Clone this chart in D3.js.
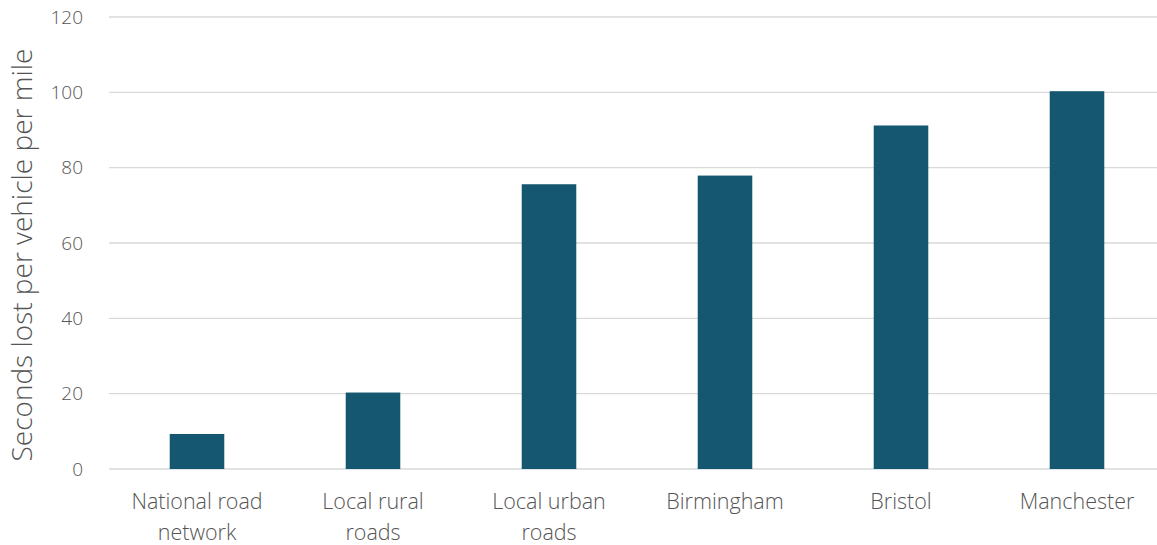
<!DOCTYPE html>
<html lang="en">
<head>
<meta charset="UTF-8">
<title>Seconds lost per vehicle per mile</title>
<script src="https://d3js.org/d3.v7.min.js"></script>
<style>
  * { margin: 0; padding: 0; }
  body { background: #fff; }
  #chart text { font-family: "Open Sans", sans-serif; font-weight: 300; fill: #555; }
</style>
</head>
<body>
<div id="chart"></div>
<script>
  // data
  var categories = [["National road", "network"], ["Local rural", "roads"], ["Local urban", "roads"],
                    ["Birmingham"], ["Bristol"], ["Manchester"]];
  var values = [9.3, 20.3, 75.6, 77.9, 91.2, 100.3];
  var yTicks = [0, 20, 40, 60, 80, 100, 120];

  var width = 1157, height = 545;
  var svg = d3.select("#chart").append("svg")
      .attr("width", width).attr("height", height);

  var x = d3.scaleBand()
      .domain(d3.range(categories.length))
      .range([109, 1165])
      .paddingInner(0.69)
      .paddingOuter(0.345);

  var y = d3.scaleLinear().domain([0, 120]).range([469, 17]);

  // gridlines
  svg.append("g").selectAll("line")
      .data(yTicks)
      .enter().append("line")
      .attr("x1", 109).attr("x2", width)
      .attr("y1", function (d) { return y(d); })
      .attr("y2", function (d) { return y(d); })
      .attr("stroke", "#d9d9d9")
      .attr("stroke-width", 1.3);

  // y tick labels
  svg.append("g").selectAll("text")
      .data(yTicks)
      .enter().append("text")
      .attr("x", 83)
      .attr("y", function (d) { return y(d); })
      .attr("dy", "0.35em")
      .attr("text-anchor", "end")
      .style("font-size", "19px")
      .text(function (d) { return d; });

  // bars
  svg.append("g").selectAll("rect")
      .data(values)
      .enter().append("rect")
      .attr("x", function (d, i) { return x(i); })
      .attr("y", function (d) { return y(d); })
      .attr("width", x.bandwidth())
      .attr("height", function (d) { return y(0) - y(d); })
      .attr("fill", "#155670");

  // category labels
  var lab = svg.append("g").selectAll("text")
      .data(categories)
      .enter().append("text")
      .attr("text-anchor", "middle")
      .style("font-size", "21.5px")
      .attr("transform", function (d, i) {
          return "translate(" + (x(i) + x.bandwidth() / 2) + ",509)";
      });
  lab.selectAll("tspan")
      .data(function (d) { return d; })
      .enter().append("tspan")
      .attr("x", 0)
      .attr("dy", function (d, j) { return j ? 31 : 0; })
      .text(function (d) { return d; });

  // y axis title
  svg.append("text")
      .attr("transform", "translate(32,255) rotate(-90)")
      .attr("text-anchor", "middle")
      .style("font-size", "28px")
      .text("Seconds lost per vehicle per mile");
</script>
</body>
</html>
